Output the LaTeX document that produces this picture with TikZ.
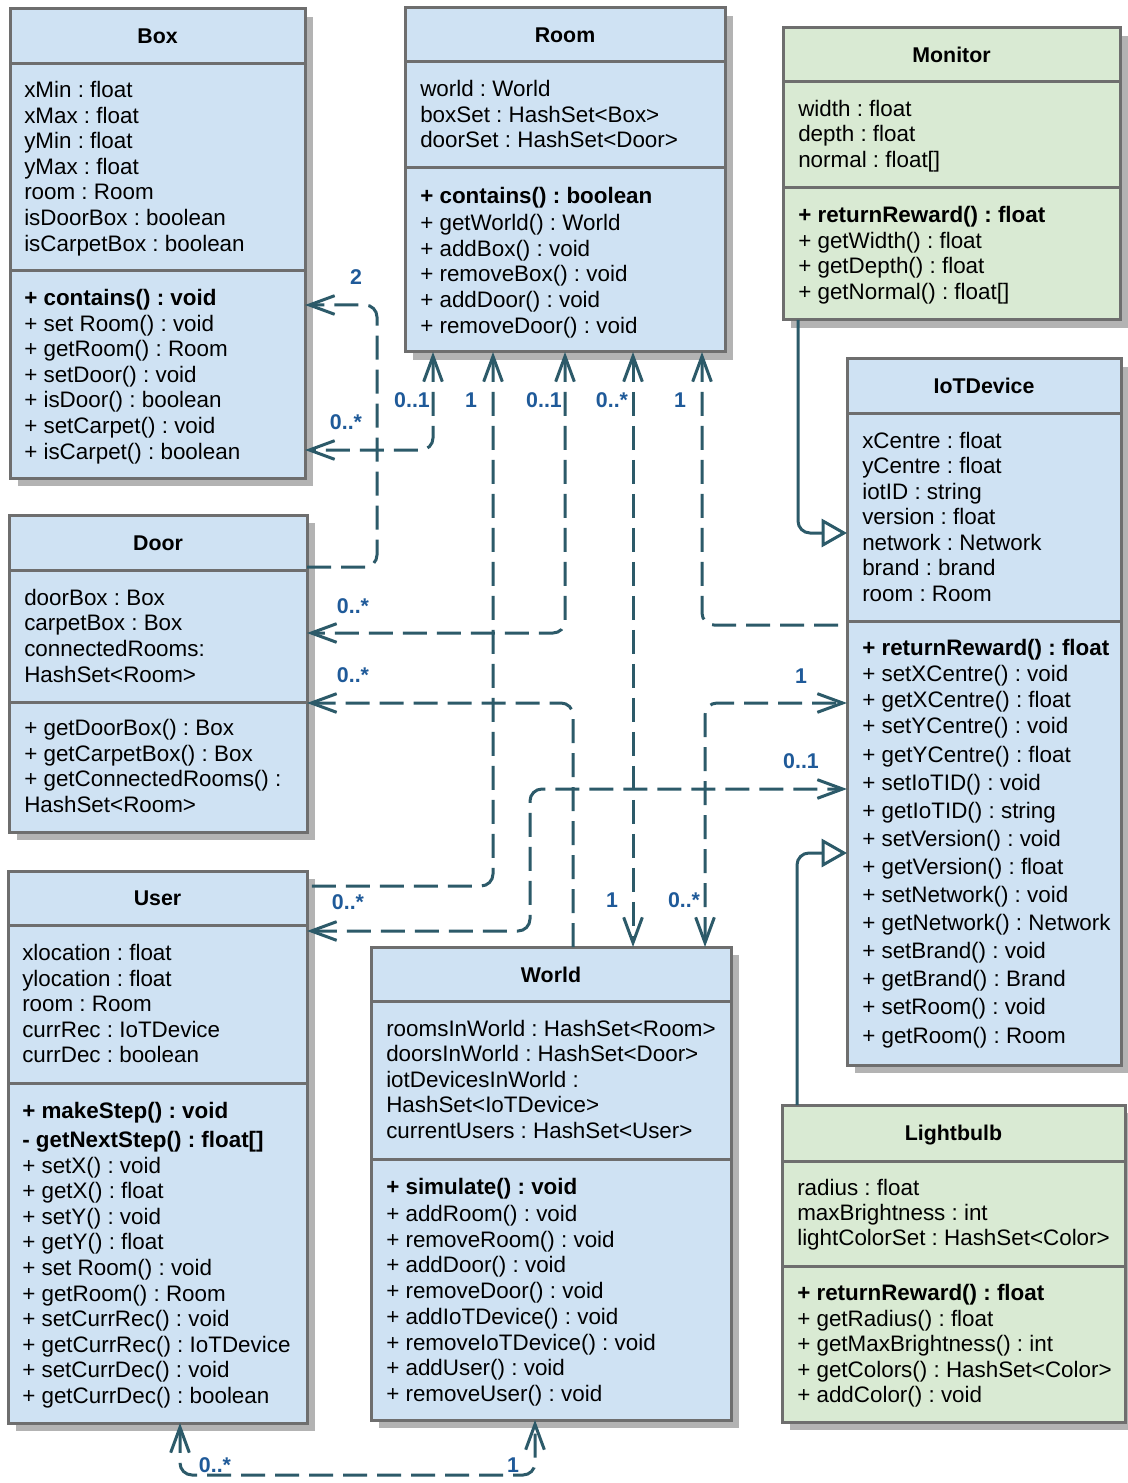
\documentclass[tikz,border=0pt]{standalone}
\usepackage{fontspec}
\setmainfont{Liberation Sans}
\usetikzlibrary{arrows.meta,fit,calc}
\definecolor{bluec}{HTML}{CFE2F3}
\definecolor{greenc}{HTML}{D9EAD3}
\definecolor{borderc}{HTML}{6E6E6E}
\definecolor{shadowc}{HTML}{B3B3B3}
\definecolor{linec}{HTML}{2C5A69}
\definecolor{multc}{HTML}{1F5A99}
\tikzset{
  vtip/.tip={Straight Barb[length=19pt,width=14pt]},
  cls/.style={draw=borderc, line width=2.25pt, inner sep=0pt, outer sep=0pt},
  sepline/.style={draw=borderc, line width=2.25pt},
  shadowbox/.style={fill=shadowc},
  txt/.style={inner sep=0pt, anchor=base west, font=\fontsize{16.8}{19}\selectfont\frenchspacing},
  ttl/.style={inner sep=0pt, anchor=base, font=\fontsize{16}{19}\selectfont\bfseries},
  assoc/.style={draw=linec, line width=2.25pt, dash pattern=on 18pt off 7.5pt, rounded corners=9pt},
  gen/.style={draw=linec, line width=2.25pt, rounded corners=9pt, -{Triangle[open,length=19pt,width=21pt,fill=white]}},
  mult/.style={font=\fontsize{16}{18}\selectfont\bfseries, text=multc, inner sep=1pt},
}
\begin{document}
\begin{tikzpicture}[x=0.75pt,y=-0.75pt]
\useasboundingbox (0,0) rectangle (1127,1483);
\fill[white] (0,0) rectangle (1127,1483);

% ---------- Box ----------
\fill[shadowbox] (18,17) rectangle (313,486);
\node[cls, fill=bluec, fit={(10,9) (305,478)}] (box) {};
\draw[sepline] (10,64) -- (305,64);
\draw[sepline] (10,271) -- (305,271);
\node[ttl] (box-t) at (157.5,43.5) {Box};
\foreach \t [count=\i from 0] in {xMin : float, xMax : float, yMin : float, yMax : float, room : Room, isDoorBox : boolean, isCarpetBox : boolean}
  \node[txt] (box-a\i) at (24,97.5+25.6*\i) {\t};
\foreach \t [count=\i from 0] in {\textbf{+ contains() : void}, + set Room() : void, + getRoom() : Room, + setDoor() : void, + isDoor() : boolean, + setCarpet() : void, + isCarpet() : boolean}
  \node[txt] (box-m\i) at (24,305.5+25.6*\i) {\t};

% ---------- Room ----------
\fill[shadowbox] (413,16) rectangle (733,360);
\node[cls, fill=bluec, fit={(405,8) (725,352)}] (room) {};
\draw[sepline] (405,62) -- (725,62);
\draw[sepline] (405,168) -- (725,168);
\node[ttl] (room-t) at (565,42.5) {Room};
\foreach \t [count=\i from 0] in {world : World, boxSet : HashSet<Box>, doorSet : HashSet<Door>}
  \node[txt] (room-a\i) at (420,97+25.3*\i) {\t};
\node[txt] (room-m0) at (420,203.5) {\textbf{+ contains() : boolean}};
\foreach \t [count=\i from 1] in {+ getWorld() : World, + addBox() : void, + removeBox() : void, + addDoor() : void, + removeDoor() : void}
  \node[txt] (room-m\i) at (420,204.8+25.7*\i) {\t};

% ---------- Monitor ----------
\fill[shadowbox] (791,36) rectangle (1128,328);
\node[cls, fill=greenc, fit={(783,28) (1120,320)}] (monitor) {};
\draw[sepline] (783,82) -- (1120,82);
\draw[sepline] (783,188) -- (1120,188);
\node[ttl] (monitor-t) at (951.5,62.5) {Monitor};
\foreach \t [count=\i from 0] in {width : float, depth : float, normal : float[]}
  \node[txt] (monitor-a\i) at (798,116.5+25.5*\i) {\t};
\node[txt] (monitor-m0) at (798,222.5) {\textbf{+ returnReward() : float}};
\foreach \t [count=\i from 1] in {+ getWidth() : float, + getDepth() : float, + getNormal() : float[]}
  \node[txt] (monitor-m\i) at (798,222.5+25.7*\i) {\t};

% ---------- IoTDevice ----------
\fill[shadowbox] (855,367) rectangle (1129,1073);
\node[cls, fill=bluec, fit={(847,359) (1121,1065)}] (iot) {};
\draw[sepline] (847,413) -- (1121,413);
\draw[sepline] (847,621) -- (1121,621);
\node[ttl] (iot-t) at (984,393) {IoTDevice};
\foreach \t [count=\i from 0] in {xCentre : float, yCentre : float, iotID : string, version : float, network : Network, brand : brand, room : Room}
  \node[txt] (iot-a\i) at (862,448+25.5*\i) {\t};
\node[txt] (iot-m0) at (862,655) {\textbf{+ returnReward() : float}};
\foreach \t [count=\i from 1] in {+ setXCentre() : void, + getXCentre() : float, + setYCentre() : void}
  \node[txt] (iot-m\i) at (862,655+26.3*\i) {\t};
\foreach \t [count=\i from 4] in {+ getYCentre() : float, + setIoTID() : void, + getIoTID() : string, + setVersion() : void, + getVersion() : float, + setNetwork() : void, + getNetwork() : Network, + setBrand() : void, + getBrand() : Brand, + setRoom() : void, + getRoom() : Room}
  \node[txt] (iot-m\i) at (862,762+28.1*\i-112.4) {\t};

% ---------- Door ----------
\fill[shadowbox] (17,523) rectangle (315,840);
\node[cls, fill=bluec, fit={(9,515) (307,832)}] (door) {};
\draw[sepline] (9,570) -- (307,570);
\draw[sepline] (9,702) -- (307,702);
\node[ttl] (door-t) at (158,550) {Door};
\foreach \t [count=\i from 0] in {doorBox : Box, carpetBox : Box, connectedRooms:, HashSet<Room>}
  \node[txt] (door-a\i) at (24,605+25.7*\i) {\t};
\foreach \t [count=\i from 0] in {+ getDoorBox() : Box, + getCarpetBox() : Box, + getConnectedRooms() :, HashSet<Room>}
  \node[txt] (door-m\i) at (24,735.5+25.7*\i) {\t};

% ---------- User ----------
\fill[shadowbox] (16,879) rectangle (315,1431);
\node[cls, fill=bluec, fit={(8,871) (307,1423)}] (user) {};
\draw[sepline] (8,925) -- (307,925);
\draw[sepline] (8,1083) -- (307,1083);
\node[ttl] (user-t) at (157.5,905.5) {User};
\foreach \t [count=\i from 0] in {xlocation : float, ylocation : float, room : Room, currRec : IoTDevice, currDec : boolean}
  \node[txt] (user-a\i) at (22,960.5+25.5*\i) {\t};
\node[txt] (user-m0) at (22,1118) {\textbf{+ makeStep() : void}};
\node[txt] (user-m1) at (22,1147) {\textbf{- getNextStep() : float[]}};
\foreach \t [count=\i from 2] in {+ setX() : void, + getX() : float, + setY() : void, + getY() : float, + set Room() : void, + getRoom() : Room, + setCurrRec() : void, + getCurrRec() : IoTDevice, + setCurrDec() : void, + getCurrDec() : boolean}
  \node[txt] (user-m\i) at (22,1173+25.6*\i-51.2) {\t};

% ---------- World ----------
\fill[shadowbox] (379,955) rectangle (739,1428);
\node[cls, fill=bluec, fit={(371,947) (731,1420)}] (world) {};
\draw[sepline] (371,1001) -- (731,1001);
\draw[sepline] (371,1159) -- (731,1159);
\node[ttl] (world-t) at (551,982) {World};
\foreach \t [count=\i from 0] in {roomsInWorld : HashSet<Room>, doorsInWorld : HashSet<Door>, iotDevicesInWorld :, HashSet<IoTDevice>, currentUsers : HashSet<User>}
  \node[txt] (world-a\i) at (386,1036+25.5*\i) {\t};
\node[txt] (world-m0) at (386,1194.5) {\textbf{+ simulate() : void}};
\foreach \t [count=\i from 1] in {+ addRoom() : void, + removeRoom() : void, + addDoor() : void, + removeDoor() : void, + addIoTDevice() : void, + removeIoTDevice() : void, + addUser() : void, + removeUser() : void}
  \node[txt] (world-m\i) at (386,1195.8+25.7*\i) {\t};

% ---------- Lightbulb ----------
\fill[shadowbox] (790,1113) rectangle (1133,1430);
\node[cls, fill=greenc, fit={(782,1105) (1125,1422)}] (light) {};
\draw[sepline] (782,1161) -- (1125,1161);
\draw[sepline] (782,1266) -- (1125,1266);
\node[ttl] (light-t) at (953.5,1140) {Lightbulb};
\foreach \t [count=\i from 0] in {radius : float, maxBrightness : int, lightColorSet : HashSet<Color>}
  \node[txt] (light-a\i) at (797,1195+25.3*\i) {\t};
\node[txt] (light-m0) at (797,1300.5) {\textbf{+ returnReward() : float}};
\foreach \t [count=\i from 1] in {+ getRadius() : float, + getMaxBrightness() : int, + getColors() : HashSet<Color>, + addColor() : void}
  \node[txt] (light-m\i) at (797,1300.5+25.5*\i) {\t};

% ---------- Connectors ----------
\draw[assoc, -{vtip}] (door.east |- 0,567) -- (377,567) -- (377,305) -- (box.east |- 0,305);
\draw[assoc, {vtip}-{vtip}] (room.south -| 433,0) -- (433,450) -- (box.east |- 0,450);
\draw[assoc, {vtip}-] (room.south -| 493,0) -- (493,886) -- (user.east |- 0,886);
\draw[assoc, {vtip}-{vtip}] (room.south -| 565,0) -- (565,633) -- (door.east |- 0,633);
\draw[assoc, {vtip}-{vtip}] (room.south -| 633,0) -- (world.north -| 633,0);
\draw[assoc, {vtip}-] (room.south -| 702,0) -- (702,625) -- (iot.west |- 0,625);
\draw[assoc, -{vtip}] (world.north -| 573,0) -- (573,703) -- (door.east |- 0,703);
\draw[assoc, {vtip}-{vtip}] (world.north -| 705,0) -- (705,703) -- (iot.west |- 0,703);
\draw[assoc, {vtip}-{vtip}] (user.east |- 0,931) -- (530,931) -- (530,789) -- (iot.west |- 0,789);
\draw[assoc, {vtip}-{vtip}] (user.south -| 180,0) -- (180,1475) -- (535,1475) -- (world.south -| 535,0);
\draw[gen] (monitor.south -| 798,0) -- (798,533) -- (iot.west |- 0,533);
\draw[gen] (light.north -| 797,0) -- (797,853) -- (iot.west |- 0,853);

% ---------- Multiplicities ----------
\node[mult] (l1) at (356,277) {2};
\node[mult] (l2) at (412,400) {0..1};
\node[mult] (l3) at (346,422) {0..*};
\node[mult] (l4) at (471,400) {1};
\node[mult] (l5) at (544,400) {0..1};
\node[mult] (l6) at (612,400) {0..*};
\node[mult] (l7) at (680,400) {1};
\node[mult] (l8) at (353,606) {0..*};
\node[mult] (l9) at (353,675) {0..*};
\node[mult] (l10) at (801,676) {1};
\node[mult] (l11) at (801,761) {0..1};
\node[mult] (l12) at (348,902) {0..*};
\node[mult] (l13) at (612,900) {1};
\node[mult] (l14) at (684,900) {0..*};
\node[mult] (l15) at (215,1465) {0..*};
\node[mult] (l16) at (513,1465) {1};
\end{tikzpicture}
\end{document}
